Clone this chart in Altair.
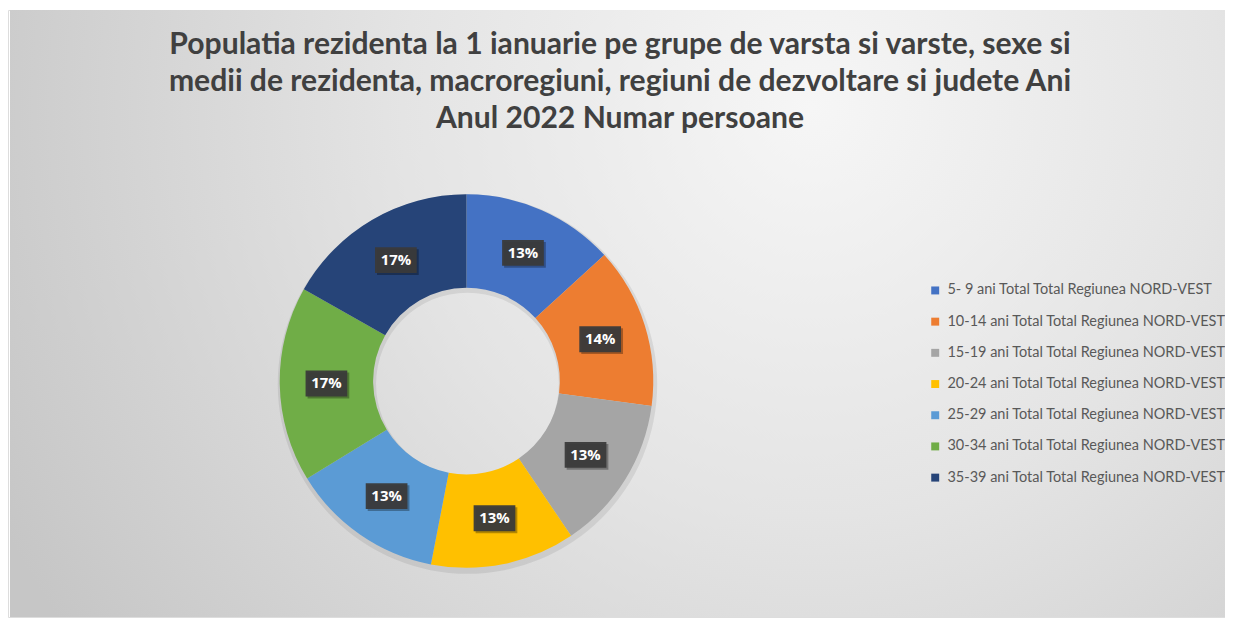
import altair as alt
import pandas as pd

categories = [
    "5- 9 ani Total Total Regiunea NORD-VEST",
    "10-14 ani Total Total Regiunea NORD-VEST",
    "15-19 ani Total Total Regiunea NORD-VEST",
    "20-24 ani Total Total Regiunea NORD-VEST",
    "25-29 ani Total Total Regiunea NORD-VEST",
    "30-34 ani Total Total Regiunea NORD-VEST",
    "35-39 ani Total Total Regiunea NORD-VEST",
]
values = [13.2, 13.9, 13.4, 12.5, 13.2, 16.9, 16.8]
colors = ["#4472C4", "#ED7D31", "#A5A5A5", "#FFC000", "#5B9BD5", "#70AD47", "#264478"]
title_lines = [
    "Populatia rezidenta la 1 ianuarie pe grupe de varsta si varste, sexe si",
    "medii de rezidenta, macroregiuni, regiuni de dezvoltare si judete Ani",
    "Anul 2022 Numar persoane",
]

W, H = 1225, 611
CX, CY = 461.5, 373.5
R_OUT, R_IN = 188, 94
R_LAB = 141

df = pd.DataFrame({"cat": categories, "val": values, "idx": list(range(len(values)))})
one = pd.DataFrame({"a": [0]})

bg = alt.Chart(one).mark_rect(
    color=alt.Gradient(
        gradient="radial",
        stops=[
            alt.GradientStop(color="#f6f6f6", offset=0),
            alt.GradientStop(color="#e4e4e4", offset=0.45),
            alt.GradientStop(color="#c6c6c6", offset=1),
        ],
        x1=0.66, y1=0.33, r1=0, x2=0.66, y2=0.33, r2=0.75,
    )
).encode(x=alt.value(2), x2=alt.value(W), y=alt.value(0), y2=alt.value(H))

title = alt.Chart(one).mark_text(
    font="Lato", fontWeight="bold", fontSize=30.3, color="#404040",
    align="center", baseline="alphabetic", lineHeight=37.5,
).encode(x=alt.value(616), y=alt.value(44), text=alt.value(title_lines))

shadow = alt.Chart(one).mark_arc(
    innerRadius=R_IN - 2, outerRadius=R_OUT + 3, theta=0, theta2=6.2832,
    color="black", opacity=0.08,
).encode(x=alt.value(CX + 1), y=alt.value(CY + 3))

arcs = alt.Chart(df).mark_arc(innerRadius=R_IN, outerRadius=R_OUT).encode(
    theta=alt.Theta("val:Q", stack=True),
    color=alt.Color(
        "cat:N",
        sort=categories,
        scale=alt.Scale(domain=categories, range=colors),
        legend=alt.Legend(
            orient="none", legendX=926, legendY=275, title=None,
            symbolType="square", symbolSize=64, symbolStrokeWidth=0,
            labelFont="Lato", labelFontSize=14.6, labelColor="#595959",
            rowPadding=16.4, labelLimit=600, labelOffset=5,
        ),
    ),
    order=alt.Order("idx:Q"),
    x=alt.value(CX),
    y=alt.value(CY),
)

lab_base = alt.Chart(df).transform_joinaggregate(total="sum(val)").transform_window(
    cum="sum(val)", sort=[alt.SortField("idx")]
).transform_calculate(
    mid="(datum.cum - datum.val/2)/datum.total*2*PI",
    px=f"{CX} + {R_LAB}*sin(datum.mid)",
    py=f"{CY} - {R_LAB}*cos(datum.mid)",
    pct="format(datum.val/datum.total, '.0%')",
)
xenc = alt.X("px:Q", scale=alt.Scale(domain=[0, W], range=[0, W], zero=False, nice=False), axis=None)
yenc = alt.Y("py:Q", scale=alt.Scale(domain=[0, H], range=[0, H], zero=False, nice=False), axis=None)

box_path = "M-1,-0.62L1,-0.62L1,0.62L-1,0.62Z"
box_shadow = lab_base.mark_point(
    shape=box_path, size=1764, filled=True, color="black", opacity=0.3,
    xOffset=2, yOffset=2, strokeWidth=0,
).encode(x=xenc, y=yenc)
box = lab_base.mark_point(
    shape=box_path, size=1764, filled=True, color="#3a3a3a", opacity=0.95, strokeWidth=0,
).encode(x=xenc, y=yenc)
labels = lab_base.mark_text(
    font="Open Sans", fontWeight="bold", fontSize=15, color="white",
    align="center", baseline="middle",
).encode(x=xenc, y=yenc, text="pct:N")

chart = alt.layer(bg, title, shadow, arcs, box_shadow, box, labels).properties(
    width=W, height=H, padding=0,
    autosize=alt.AutoSizeParams(type="none"),
).configure_view(stroke=None).configure(background="white")

chart.save("out.html", embed_options={"renderer": "svg", "actions": False})
